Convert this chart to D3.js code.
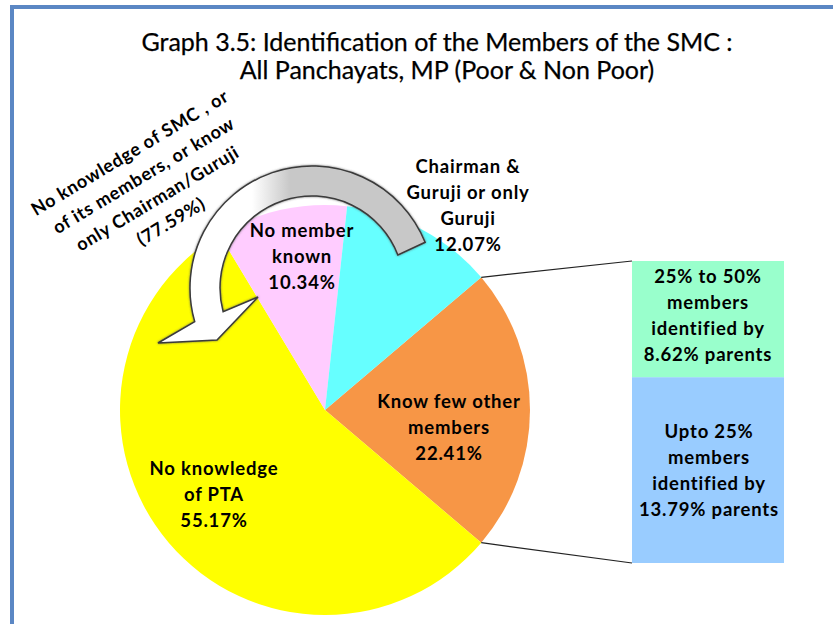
<!DOCTYPE html>
<html><head><meta charset="utf-8">
<script src="https://cdn.jsdelivr.net/npm/d3@7"></script>
<style>html,body{margin:0;padding:0;background:#fff;}svg{display:block;}</style>
</head><body>
<svg id="chart" width="833" height="624"></svg>
<script>
// ---- data ----
const titleLines = ["Graph 3.5: Identification of the Members of the SMC :", "All Panchayats, MP (Poor & Non Poor)"];
const sliceNames = ["Know few other members", "No knowledge of PTA", "No member known", "Chairman & Guruji or only Guruji"];
const sliceValues = [22.41, 55.17, 10.34, 12.07];
const sliceColors = ["#F79646", "#FFFF00", "#FFCCFF", "#66FFFF"];
const sliceLabels = [
  ["Know few other", "members", "22.41%"],
  ["No knowledge", "of PTA", "55.17%"],
  ["No member", "known", "10.34%"],
  ["Chairman &", "Guruji or only", "Guruji", "12.07%"]
];
const barNames = ["Upto 25% members", "25% to 50% members"];
const barValues = [13.79, 8.62];
const barColors = ["#99CCFF", "#99FFCC"];
const barLabels = [
  ["Upto 25%", "members", "identified by", "13.79% parents"],
  ["25% to 50%", "members", "identified by", "8.62% parents"]
];
const noteLines = ["No knowledge of SMC , or", "of its members, or know", "only Chairman/Guruji", "(77.59%)"];

// ---- layout ----
const svg = d3.select("#chart");
const cx = 325, cy = 410, R = 205;
const FONT = "Lato, 'Open Sans', sans-serif";

// border
svg.append("rect").attr("x", 12).attr("y", 7).attr("width", 900).attr("height", 700)
  .attr("fill", "none").attr("stroke", "#5B87C4").attr("stroke-width", 4);

// title
const titleX = [437, 447];
svg.selectAll("text.title").data(titleLines).join("text")
  .attr("class", "title")
  .attr("x", (d, i) => titleX[i]).attr("y", (d, i) => 51 + i * 28)
  .attr("text-anchor", "middle")
  .attr("font-family", FONT).attr("font-size", 25).attr("fill", "#000")
  .attr("stroke", "#000").attr("stroke-width", 0.25)
  .text(d => d);

// pie
const otherSpan = sliceValues[0] / d3.sum(sliceValues) * 2 * Math.PI;
const start = Math.PI / 2 - otherSpan / 2;
const pie = d3.pie().sort(null).value(d => d).startAngle(start).endAngle(start + 2 * Math.PI);
const arcs = pie(sliceValues);
const arc = d3.arc().innerRadius(0).outerRadius(R);
const g = svg.append("g").attr("transform", `translate(${cx},${cy})`);
g.selectAll("path").data(arcs).join("path")
  .attr("d", arc).attr("fill", (d, i) => sliceColors[i]);

// bar (secondary stack)
const barX = 632, barW = 152, barTop = 261, barBottom = 563;
const y = d3.scaleLinear().domain([0, d3.sum(barValues)]).range([barBottom, barTop]);
let acc = 0;
const stack = barValues.map(v => { const o = { y0: acc, y1: acc + v }; acc += v; return o; });
svg.selectAll("rect.bar").data(stack).join("rect")
  .attr("class", "bar")
  .attr("x", barX).attr("width", barW)
  .attr("y", d => y(d.y1)).attr("height", d => y(d.y0) - y(d.y1))
  .attr("fill", (d, i) => barColors[i]);

// connector lines
const o = arcs[0];
const pt = a => [cx + R * Math.sin(a), cy - R * Math.cos(a)];
const pA = pt(o.startAngle), pB = pt(o.endAngle);
svg.append("line").attr("x1", pA[0]).attr("y1", pA[1]).attr("x2", barX).attr("y2", y(d3.sum(barValues)))
  .attr("stroke", "#222").attr("stroke-width", 1.2);
svg.append("line").attr("x1", pB[0]).attr("y1", pB[1]).attr("x2", barX).attr("y2", y(0))
  .attr("stroke", "#222").attr("stroke-width", 1.2);

// labels
function multiline(sel, lines, x, y0, dy, opts) {
  const t = sel.append("text").attr("text-anchor", "middle")
    .attr("font-family", FONT).attr("font-weight", opts.weight || "bold")
    .attr("font-size", opts.size || 18.5).attr("letter-spacing", opts.ls || 0.8)
    .attr("fill", "#000");
  lines.forEach((l, i) => t.append("tspan").attr("x", x).attr("y", y0 + i * dy).text(l));
  return t;
}
const sliceLabelPos = [[449, 408], [214, 475], [302, 237], [468, 173]];
sliceLabels.forEach((lines, i) => multiline(svg, lines, sliceLabelPos[i][0], sliceLabelPos[i][1], 26, {}));
const barLabelPos = [[709, 438], [708, 283]];
barLabels.forEach((lines, i) => multiline(svg, lines, barLabelPos[i][0], barLabelPos[i][1], 26, {}));

// rotated note
const note = svg.append("g").attr("transform", "translate(133,158) rotate(-31)");
const nt = note.append("text").attr("text-anchor", "middle")
  .attr("font-family", FONT).attr("font-weight", "bold").attr("font-size", 18)
  .attr("letter-spacing", 0.7).attr("fill", "#000");
noteLines.forEach((l, i) => nt.append("tspan").attr("x", 0).attr("y", i * 26.7).text(l));

// curved arrow
const defs = svg.append("defs");
const grad = defs.append("linearGradient").attr("id", "arrowGrad")
  .attr("gradientUnits", "userSpaceOnUse").attr("x1", 252).attr("y1", 0).attr("x2", 290).attr("y2", 0);
grad.append("stop").attr("offset", 0).attr("stop-color", "#ffffff");
grad.append("stop").attr("offset", 1).attr("stop-color", "#C8C8C8");
const filt = defs.append("filter").attr("id", "shadow").attr("x", -0.2).attr("y", -0.2).attr("width", 1.4).attr("height", 1.4);
filt.append("feDropShadow").attr("dx", 0).attr("dy", 0).attr("stdDeviation", 1.2).attr("flood-color", "#555").attr("flood-opacity", 0.8);

const acx = 312, acy = 288, Ro = 122, Ri = 92;
const P = (deg, r) => { const a = deg * Math.PI / 180; return [acx + r * Math.sin(a), acy - r * Math.cos(a)]; };
const o1 = P(68, Ro), o2 = P(-106, Ro), i1 = P(-105, Ri), i2 = P(69, Ri);
const head = [[158, 343], [217, 340], [258, 297]];
const arrowD = `M${o1} A${Ro},${Ro} 0 0 0 ${o2} L${head[0]} L${head[1]} L${head[2]} L${i1} A${Ri},${Ri} 0 0 1 ${i2} Z`;
svg.append("path").attr("d", arrowD)
  .attr("fill", "url(#arrowGrad)").attr("stroke", "#3a3a3a").attr("stroke-width", 1.5)
  .attr("stroke-linejoin", "miter").attr("filter", "url(#shadow)");
</script>
</body></html>
